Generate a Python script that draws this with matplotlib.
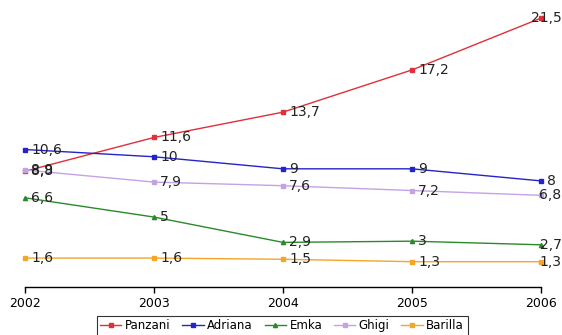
import matplotlib
matplotlib.use("Agg")
import matplotlib.pyplot as plt
from matplotlib.transforms import blended_transform_factory

# data
years = [2002, 2003, 2004, 2005, 2006]
panzani = [8.8, 11.6, 13.7, 17.2, 21.5]
adriana = [10.6, 10, 9, 9, 8]
emka = [6.6, 5, 2.9, 3, 2.7]
ghigi = [8.9, 7.9, 7.6, 7.2, 6.8]
barilla = [1.6, 1.6, 1.5, 1.3, 1.3]

series = [
    ("Panzani", panzani, "#e0303a", "s"),
    ("Adriana", adriana, "#2424c8", "s"),
    ("Emka", emka, "#2a8a2a", "^"),
    ("Ghigi", ghigi, "#c4a2e6", "s"),
    ("Barilla", barilla, "#f4a52a", "s"),
]


def fmt(v):
    s = ("%g" % v)
    return s.replace(".", ",")


fig = plt.figure(figsize=(5.62, 3.35), dpi=100)
ax = fig.add_axes([25 / 562, 1 - 287 / 335, (541 - 25) / 562, 287 / 335])
edge = blended_transform_factory(fig.transFigure, ax.transData)

for name, vals, col, mk in series:
    ax.plot(years, vals, color=col, lw=1, marker=mk, ms=3, label=name,
            clip_on=False)
    for x, v in zip(years, vals):
        lab = fmt(v)
        if x == years[-1] and len(lab) > 1:
            # labels that would run off the right edge are pulled back in
            ax.text(0.999, v, lab, transform=edge, va="center", ha="right",
                    fontsize=10, color="#222222")
        else:
            ax.annotate(lab, (x, v), xytext=(4.5, 0), textcoords="offset points",
                        va="center", ha="left", fontsize=10, color="#222222")

ax.set_xlim(2002, 2006)
ax.set_ylim(-0.8, 23)
ax.set_xticks(years)
ax.set_xticklabels([str(y) for y in years], fontsize=9)
ax.set_yticks([])
for side in ["top", "right", "left"]:
    ax.spines[side].set_visible(False)
ax.spines["bottom"].set_linewidth(1)
ax.tick_params(axis="x", direction="out", length=4, width=1, pad=3)

leg = fig.legend(loc="center", bbox_to_anchor=(0.502, 0.027), ncol=5,
                 fontsize=8.5, frameon=True, fancybox=False, handlelength=1.8,
                 handletextpad=0.3, columnspacing=1.0, borderpad=0.3)
leg.get_frame().set_edgecolor("black")
leg.get_frame().set_linewidth(0.8)

fig.savefig("out.png", dpi=100)
